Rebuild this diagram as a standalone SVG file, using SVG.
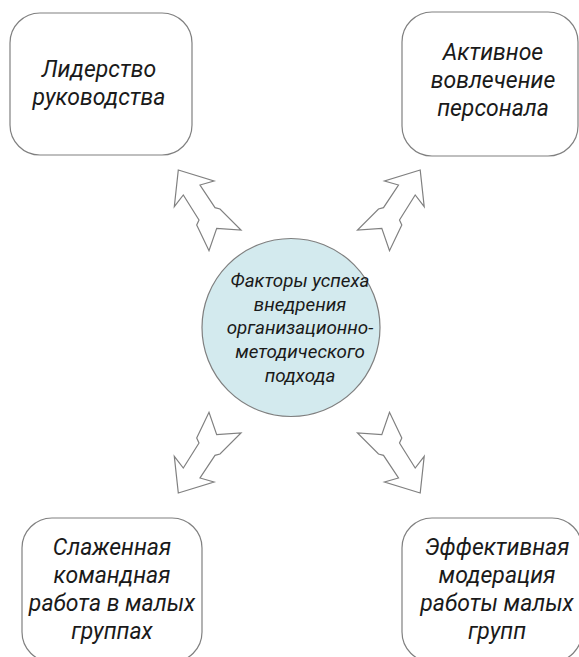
<svg xmlns="http://www.w3.org/2000/svg" xmlns:xlink="http://www.w3.org/1999/xlink" width="579" height="657" viewBox="0 0 579 657">
<style>
.box{fill:#ffffff;stroke:#808080;stroke-width:1.2}
.hub{fill:#d3eaee;stroke:#7f7f7f;stroke-width:1.2}
.arr{fill:#ffffff;stroke:#808080;stroke-width:1.2;stroke-linejoin:miter}
.t{font-family:Roboto,"Open Sans",sans-serif;font-style:italic;fill:#1a1a1a;text-anchor:middle}
.tb{font-size:23px}
.tc{font-size:18.8px}
</style>
<defs>
<path id="arrow" d="M178.3,170 L214,181 L200,185 L215,207.7 L220,209 L241,230 L216.7,228.3 L209,250.7 L196.7,225 L199,220 L183.3,195 L174.3,206.7 Z"/>
</defs>
<rect width="579" height="657" fill="#ffffff"/>
<g id="connectors">
<use xlink:href="#arrow" class="arr"/>
<use xlink:href="#arrow" class="arr" transform="translate(598.5,0) scale(-1,1)"/>
<use xlink:href="#arrow" class="arr" transform="translate(0,663) scale(1,-1)"/>
<use xlink:href="#arrow" class="arr" transform="translate(598.5,663) scale(-1,-1)"/>
</g>
<g id="hub">
<circle class="hub" cx="291" cy="327.5" r="89"/>
<text class="t tc"><tspan x="300" y="287">Факторы успеха</tspan><tspan x="300" y="310.5">внедрения</tspan><tspan x="300" y="334">организационно-</tspan><tspan x="300" y="358">методического</tspan><tspan x="300" y="381.5">подхода</tspan></text>
</g>
<g id="n1">
<rect class="box" x="10" y="13" width="182" height="142" rx="30"/>
<text class="t tb"><tspan x="99" y="77">Лидерство</tspan><tspan x="99" y="105">руководства</tspan></text>
</g>
<g id="n2">
<rect class="box" x="402" y="12" width="176" height="144" rx="30"/>
<text class="t tb"><tspan x="493" y="60">Активное</tspan><tspan x="493" y="88">вовлечение</tspan><tspan x="493" y="116">персонала</tspan></text>
</g>
<g id="n3">
<rect class="box" x="22" y="518" width="180" height="144" rx="30"/>
<text class="t tb"><tspan x="112" y="555">Слаженная</tspan><tspan x="112" y="583">командная</tspan><tspan x="112" y="611">работа в малых</tspan><tspan x="112" y="639">группах</tspan></text>
</g>
<g id="n4">
<rect class="box" x="402" y="518" width="180" height="144" rx="30"/>
<text class="t tb"><tspan x="497" y="555">Эффективная</tspan><tspan x="497" y="583">модерация</tspan><tspan x="497" y="611">работы малых</tspan><tspan x="497" y="639">групп</tspan></text>
</g>
</svg>
